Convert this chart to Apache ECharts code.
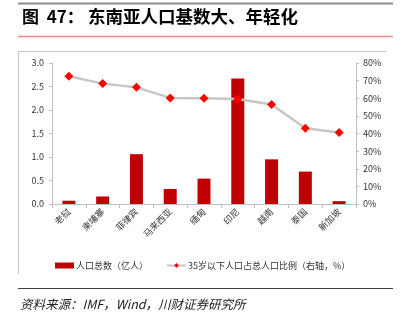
<!DOCTYPE html>
<html>
<head>
<meta charset="utf-8">
<script src="https://cdn.jsdelivr.net/npm/echarts@6/dist/echarts.min.js"></script>
<style>
  html, body { margin: 0; padding: 0; background: #fff; }
  #chart { width: 408px; height: 323px; }
</style>
</head>
<body>
<div id="chart"></div>
<script>
// 东南亚各国人口总数与 35 岁以下人口占比
const countries = ['老挝', '柬埔寨', '菲律宾', '马来西亚', '缅甸', '印尼', '越南', '泰国', '新加坡'];
const population = [0.07, 0.16, 1.06, 0.32, 0.54, 2.67, 0.95, 0.69, 0.06];   // 亿人
const youngShare = [72.5, 68.3, 66.2, 60.2, 60.0, 59.6, 56.4, 43.0, 40.6];   // %
const leftTicks = { min: 0, max: 3, interval: 0.5 };
const rightTicks = { min: 0, max: 80, interval: 10 };

const CJK = '"Noto Sans CJK SC", "Noto Sans", sans-serif';
const chart = echarts.init(document.getElementById('chart'), null, { renderer: 'canvas' });

chart.setOption({
  animation: false,
  textStyle: { fontFamily: CJK },
  grid: { left: 52, right: 52, top: 63, bottom: 119 },
  graphic: [
    { type: 'line', shape: { x1: 18, y1: 3.5, x2: 393, y2: 3.5 }, style: { stroke: '#8c8c8c', lineWidth: 2 } },
    { type: 'text', left: 22, top: 8, style: { text: '图  47：', fill: '#000', font: 'bold 17px ' + CJK } },
    { type: 'text', left: 88, top: 8, style: { text: '东南亚人口基数大、年轻化', fill: '#000', font: 'bold 17.5px ' + CJK } },
    { type: 'line', shape: { x1: 18, y1: 36.5, x2: 393, y2: 36.5 }, style: { stroke: '#e48a8a', lineWidth: 1.5 } },
    { type: 'line', shape: { x1: 18, y1: 51.5, x2: 386, y2: 51.5 }, style: { stroke: '#c8c8c8', lineWidth: 1 } },
    { type: 'line', shape: { x1: 18.5, y1: 51, x2: 18.5, y2: 274 }, style: { stroke: '#c8c8c8', lineWidth: 1 } },
    { type: 'line', shape: { x1: 18, y1: 288.5, x2: 393, y2: 288.5 }, style: { stroke: '#404040', lineWidth: 1.2 } },
    { type: 'text', left: 20, top: 298, style: { text: '资料来源：IMF，Wind，川财证券研究所', fill: '#222', font: 'italic 12.5px ' + CJK } }
  ],
  legend: {
    top: 256,
    left: 50,
    itemGap: 18,
    itemWidth: 19,
    itemHeight: 6,
    textStyle: { fontSize: 9, color: '#333', fontFamily: CJK, padding: [0, 0, 0, -3] },
    data: [
      { name: '人口总数（亿人）', icon: 'rect' },
      { name: '35岁以下人口占总人口比例（右轴，%）' }
    ]
  },
  xAxis: {
    type: 'category',
    data: countries,
    boundaryGap: true,
    axisLine: { lineStyle: { color: '#bfbfbf' } },
    axisTick: { show: true, alignWithLabel: false, length: 4, lineStyle: { color: '#bfbfbf' } },
    axisLabel: { rotate: 45, fontSize: 9, color: '#333', margin: 6, interval: 0 }
  },
  yAxis: [
    {
      type: 'value',
      min: leftTicks.min, max: leftTicks.max, interval: leftTicks.interval,
      axisLine: { show: true, lineStyle: { color: '#bfbfbf' } },
      axisTick: { show: true, length: 3, lineStyle: { color: '#bfbfbf' } },
      splitLine: { show: false },
      axisLabel: { fontSize: 9, color: '#333', margin: 8, formatter: v => v.toFixed(1) }
    },
    {
      type: 'value',
      min: rightTicks.min, max: rightTicks.max, interval: rightTicks.interval,
      position: 'right',
      axisLine: { show: true, lineStyle: { color: '#bfbfbf' } },
      axisTick: { show: true, length: 3, lineStyle: { color: '#bfbfbf' } },
      splitLine: { show: false },
      axisLabel: { fontSize: 9, color: '#333', margin: 7, formatter: v => v + '%' }
    }
  ],
  series: [
    {
      name: '人口总数（亿人）',
      type: 'bar',
      yAxisIndex: 0,
      data: population,
      barWidth: 13,
      itemStyle: { color: '#c00000' }
    },
    {
      name: '35岁以下人口占总人口比例（右轴，%）',
      type: 'line',
      yAxisIndex: 1,
      data: youngShare,
      symbol: 'diamond',
      symbolSize: 9,
      lineStyle: { color: '#c6c6c6', width: 2.5 },
      itemStyle: { color: '#ff0000' }
    }
  ]
});
</script>
</body>
</html>
